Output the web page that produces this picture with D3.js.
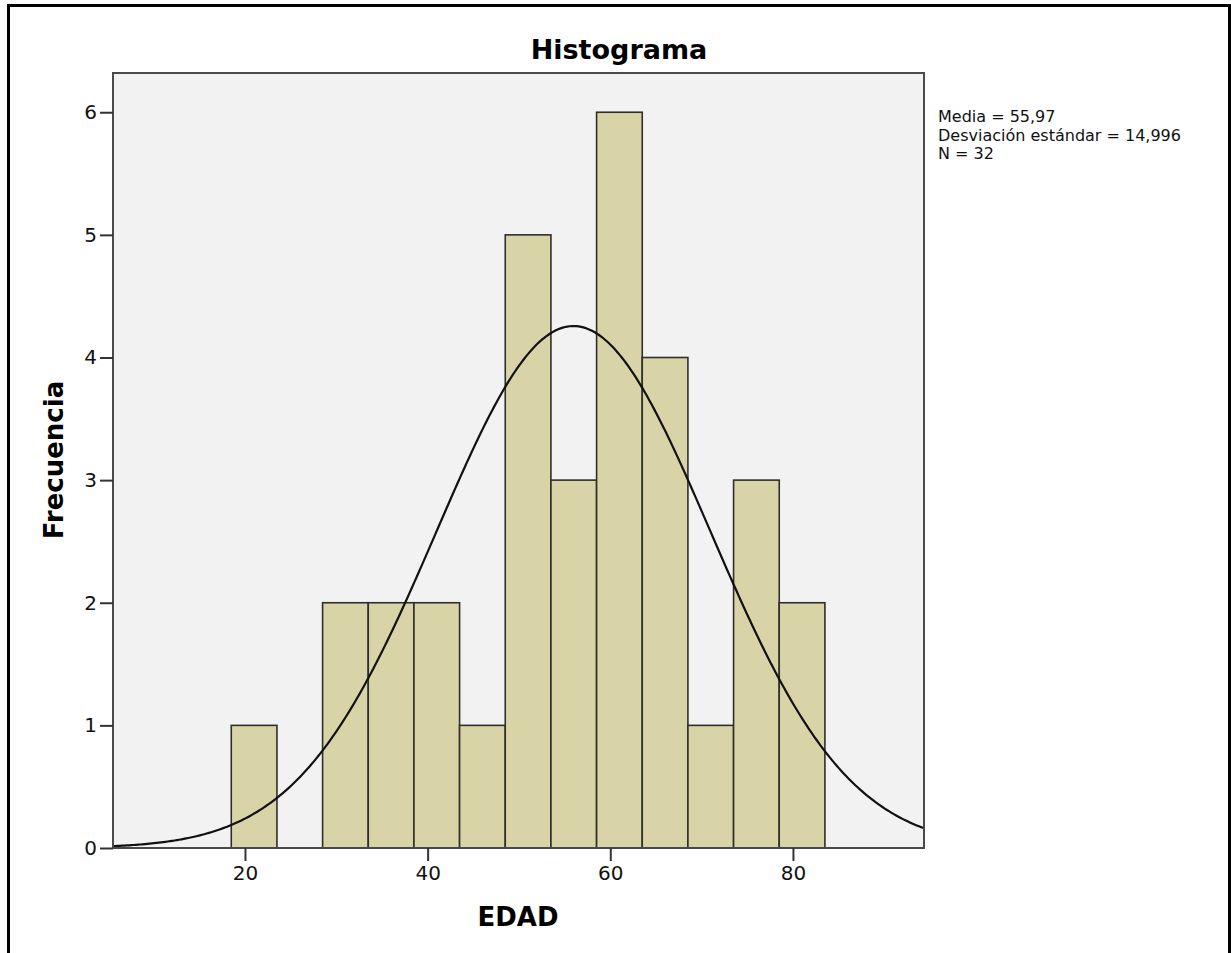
<!DOCTYPE html>
<html>
<head>
<meta charset="utf-8">
<script src="https://cdn.jsdelivr.net/npm/d3@7"></script>
<style>
  body { margin: 0; background: #fff; }
  svg { display: block; font-family: "DejaVu Sans", sans-serif; }
</style>
</head>
<body>
<svg id="chart" width="1231" height="953"></svg>
<script>
// histogram data (bins of width 5)
const binStarts = [18.5, 23.5, 28.5, 33.5, 38.5, 43.5, 48.5, 53.5, 58.5, 63.5, 68.5, 73.5, 78.5];
const counts = [1, 0, 2, 2, 2, 1, 5, 3, 6, 4, 1, 3, 2];
const binWidth = 5;
const xTicks = [20, 40, 60, 80];
const yTicks = [0, 1, 2, 3, 4, 5, 6];
const stats = [55.97, 14.996, 32]; // mean, sd, N
const statLines = ['Media = 55,97', 'Desviación estándar = 14,996', 'N = 32'];

const svg = d3.select('#chart');

// outer frame
svg.append('rect')
    .attr('x', 8.5).attr('y', 5.5)
    .attr('width', 1221).attr('height', 1000)
    .attr('fill', 'none').attr('stroke', '#000').attr('stroke-width', 3);

const plotL = 113, plotR = 924, plotT = 73, plotB = 848;

const x = d3.scaleLinear().domain([5.55, 94.35]).range([plotL, plotR]);
const y = d3.scaleLinear().domain([0, 6.32]).range([plotB, plotT]);

// plot background
svg.append('rect')
    .attr('x', plotL).attr('y', plotT)
    .attr('width', plotR - plotL).attr('height', plotB - plotT)
    .attr('fill', '#f2f2f2');

// bars
svg.append('g')
    .selectAll('rect')
    .data(binStarts.map((b, i) => ({ b, c: counts[i] })).filter(d => d.c > 0))
    .enter()
    .append('rect')
    .attr('x', d => x(d.b))
    .attr('y', d => y(d.c))
    .attr('width', d => x(d.b + binWidth) - x(d.b))
    .attr('height', d => y(0) - y(d.c))
    .attr('fill', '#d9d4a8')
    .attr('stroke', '#2e2e2a')
    .attr('stroke-width', 1.6);

// normal curve from the stated mean / sd / N
const [mean, sd, n] = stats;
const dens = v => n * binWidth * Math.exp(-0.5 * ((v - mean) / sd) ** 2) / (sd * Math.sqrt(2 * Math.PI));
const xs = d3.range(x.domain()[0], x.domain()[1] + 0.01, 0.25);
svg.append('path')
    .datum(xs)
    .attr('d', d3.line().x(v => x(v)).y(v => y(dens(v))))
    .attr('fill', 'none')
    .attr('stroke', '#111')
    .attr('stroke-width', 2.2);

// plot border
svg.append('rect')
    .attr('x', plotL).attr('y', plotT)
    .attr('width', plotR - plotL).attr('height', plotB - plotT)
    .attr('fill', 'none').attr('stroke', '#4a4a4a').attr('stroke-width', 2);

// axes
const xAxis = d3.axisBottom(x).tickValues(xTicks).tickSize(13).tickPadding(5);
const gx = svg.append('g')
    .attr('transform', `translate(0, ${plotB})`)
    .call(xAxis);

const yAxis = d3.axisLeft(y).tickValues(yTicks).tickSize(13).tickPadding(3).tickFormat(d3.format('d'));
const gy = svg.append('g')
    .attr('transform', `translate(${plotL}, 0)`)
    .call(yAxis);

[gx, gy].forEach(g => {
    g.select('.domain').remove();
    g.selectAll('.tick line').attr('stroke', '#333').attr('stroke-width', 2);
    g.selectAll('.tick text').attr('fill', '#111').style('font-size', '20px').style('font-family', '"DejaVu Sans", sans-serif');
});

// titles
svg.append('text')
    .attr('x', 619).attr('y', 59)
    .attr('text-anchor', 'middle')
    .style('font-size', '27px').style('font-weight', 'bold')
    .text('Histograma');

svg.append('text')
    .attr('x', 518).attr('y', 926)
    .attr('text-anchor', 'middle')
    .style('font-size', '26px').style('font-weight', 'bold')
    .text('EDAD');

svg.append('text')
    .attr('transform', 'translate(63, 460) rotate(-90)')
    .attr('text-anchor', 'middle')
    .style('font-size', '26px').style('font-weight', 'bold')
    .text('Frecuencia');

// stats box text
svg.append('g')
    .selectAll('text')
    .data(statLines)
    .enter()
    .append('text')
    .attr('x', 938)
    .attr('y', (d, i) => 122 + i * 18.6)
    .style('font-size', '16px')
    .attr('fill', '#111')
    .text(d => d);
</script>
</body>
</html>
